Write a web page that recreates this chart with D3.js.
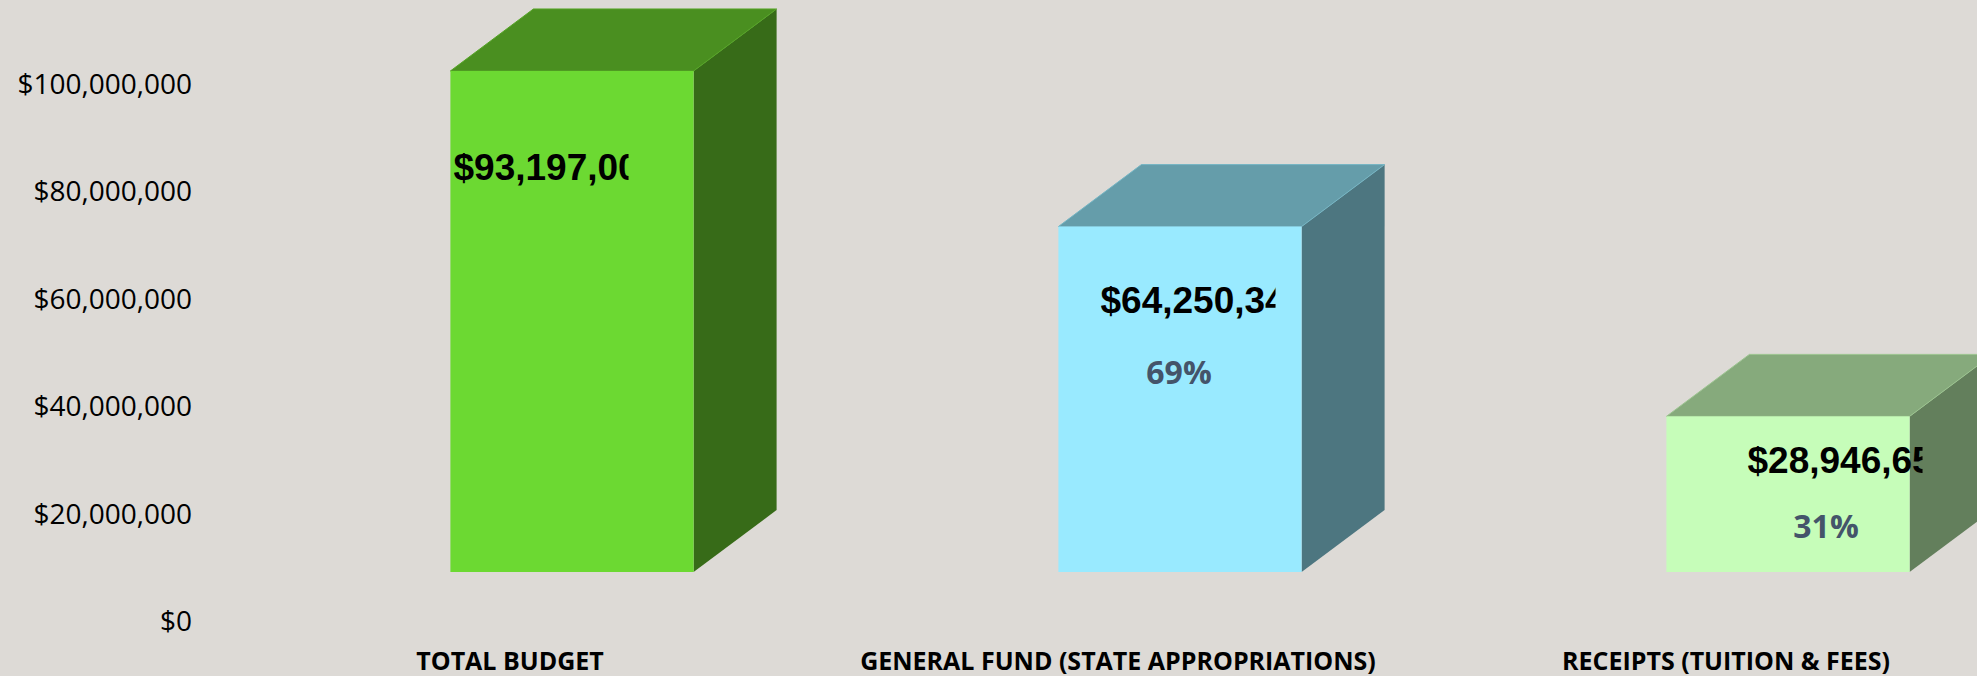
<!DOCTYPE html>
<html lang="en">
<head>
  <meta charset="UTF-8">
  <title>Budget 3D columns</title>
  <script src="https://d3js.org/d3.v7.min.js"></script>
  <style>
    body { margin:0; background:#DDDAD6; }
    svg { display:block; }
  </style>
</head>
<body>
  <svg></svg>
  <script>
    // chart data
    const categories = ['TOTAL BUDGET', 'GENERAL FUND (STATE APPROPRIATIONS)', 'RECEIPTS (TUITION & FEES)']
    const values = [93197000, 64250345, 28946655]
    const yTicks = [0, 20000000, 40000000, 60000000, 80000000, 100000000]
    const frontColors = ['#6CD932', '#99EAFF', '#C6FDB9']
    const topColors = ['#4A8F20', '#659DAA', '#86AA7C']
    const sideColors = ['#376B18', '#4D7680', '#637F5C']

    const width = 1977
    const height = 676
    const depth = {dx: 83, dy: -62}
    // label placement tweaks (px), mimicking the hand-placed labels
    const labelShift = [-31, 8, 47]
    const labelDrop = [109, 86, 57]
    const pctGap = [0, 71, 65]
    const clipW = 175

    const svg = d3.select('svg').attr('width', width).attr('height', height)
    svg.append('rect').attr('width', width).attr('height', height).attr('fill', '#DDDAD6')

    const x = d3.scaleBand()
      .domain(categories)
      .range([268, 2092])
      .paddingInner(0.6)
      .paddingOuter(0.3)
    const y = d3.scaleLinear()
      .domain([0, 100000000])
      .range([572, 34.4])
    const bw = x.bandwidth()
    const y0 = y(0)

    // y axis labels sit in front of the floor, so shift them down
    const yAxisScale = y.copy().range(y.range().map(r => r + 50))
    const yAxis = d3.axisLeft(yAxisScale)
      .tickValues(yTicks)
      .tickSize(0)
      .tickPadding(8)
      .tickFormat(d3.format('$,'))
    const gy = svg.append('g')
      .attr('transform', 'translate(200,0)')
      .call(yAxis)
    gy.select('.domain').remove()
    gy.selectAll('text')
      .attr('font-family', 'Open Sans, sans-serif')
      .attr('font-size', 28)
      .attr('fill', '#000')

    const total = values[0]
    const fmt = d3.format('$,')
    const bars = svg.selectAll('g.bar')
      .data(categories.map((c, i) => ({c, v: values[i], i})))
      .enter()
      .append('g')
      .attr('class', 'bar')

    // side face
    bars.append('polygon')
      .attr('fill', d => sideColors[d.i])
      .attr('points', d => {
        const x1 = x(d.c) + bw
        const yt = y(d.v)
        return [[x1, yt], [x1 + depth.dx, yt + depth.dy], [x1 + depth.dx, y0 + depth.dy], [x1, y0]].join(' ')
      })
    // top face
    bars.append('polygon')
      .attr('fill', d => topColors[d.i])
      .attr('stroke', d => d3.color(topColors[d.i]).brighter(0.4))
      .attr('stroke-width', 1)
      .attr('points', d => {
        const x0 = x(d.c)
        const yt = y(d.v)
        return [[x0, yt], [x0 + depth.dx, yt + depth.dy], [x0 + bw + depth.dx, yt + depth.dy], [x0 + bw, yt]].join(' ')
      })
    // front face
    bars.append('rect')
      .attr('fill', d => frontColors[d.i])
      .attr('x', d => x(d.c))
      .attr('y', d => y(d.v))
      .attr('width', bw)
      .attr('height', d => y0 - y(d.v))

    // value labels, clipped to their label box like the original
    const boxLeft = d => x(d.c) + bw / 2 + labelShift[d.i] - clipW / 2
    const defs = svg.append('defs')
    bars.each(d => {
      defs.append('clipPath').attr('id', 'clip' + d.i)
        .append('rect')
        .attr('x', boxLeft(d))
        .attr('y', 0)
        .attr('width', clipW)
        .attr('height', height)
    })
    bars.append('text')
      .attr('clip-path', d => 'url(#clip' + d.i + ')')
      .attr('x', d => boxLeft(d))
      .attr('y', d => y(d.v) + labelDrop[d.i])
      .attr('font-family', 'Liberation Sans, Arial, sans-serif')
      .attr('font-weight', 'bold')
      .attr('font-size', 37)
      .attr('fill', '#000')
      .text(d => fmt(d.v))

    bars.filter(d => d.i > 0)
      .append('text')
      .attr('x', d => x(d.c) + bw / 2 + labelShift[d.i] - 9)
      .attr('y', d => y(d.v) + labelDrop[d.i] + pctGap[d.i])
      .attr('text-anchor', 'middle')
      .attr('font-family', 'Open Sans, sans-serif')
      .attr('font-weight', 'bold')
      .attr('font-size', 32)
      .attr('fill', '#44546A')
      .text(d => d3.format('.0%')(d.v / total))

    // category labels
    svg.append('g')
      .selectAll('text')
      .data(categories)
      .enter()
      .append('text')
      .attr('x', d => x(d) + bw / 2 - 62)
      .attr('y', 670)
      .attr('text-anchor', 'middle')
      .attr('font-family', 'Open Sans, sans-serif')
      .attr('font-weight', 'bold')
      .attr('font-size', 25)
      .attr('fill', '#000')
      .text(d => d)
  </script>
</body>
</html>
